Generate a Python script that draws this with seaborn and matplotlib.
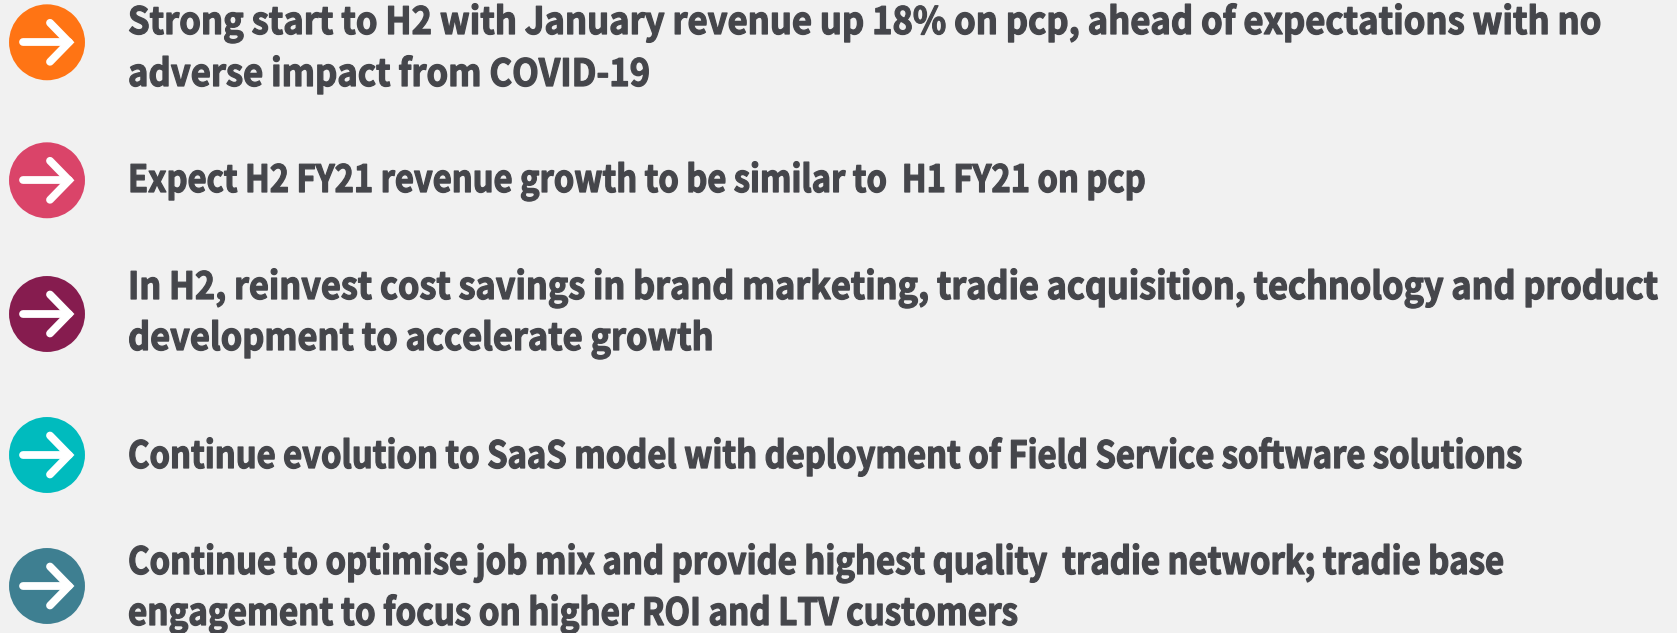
import matplotlib
matplotlib.use("Agg")
import matplotlib.patheffects as pe
import matplotlib.pyplot as plt
from matplotlib.transforms import Affine2D
import pandas as pd
import seaborn as sns

BACKGROUND = "#f1f1f1"
TEXT_COLOR = "#45464b"
BASE_SIZE = 27

badge_colors = ["#ff7414", "#da4469", "#861c4f", "#00bbbe", "#3e7f91"]
badge_rows = [42.3, 180.3, 314, 455, 586]
messages = [
    "Strong start to H2 with January revenue up 18% on pcp, ahead of expectations with no",
    "adverse impact from COVID-19",
    "Expect H2 FY21 revenue growth to be similar to  H1 FY21 on pcp",
    "In H2, reinvest cost savings in brand marketing, tradie acquisition, technology and product",
    "development to accelerate growth",
    "Continue evolution to SaaS model with deployment of Field Service software solutions",
    "Continue to optimise job mix and provide highest quality  tradie network; tradie base",
    "engagement to focus on higher ROI and LTV customers",
]
baselines = [34, 86, 192, 299, 350, 468, 574, 625]
right_edges = [1602, 650, 1146, 1658, 714, 1522, 1504, 1018]


class TallText(pe.AbstractPathEffect):
    """Stretch glyphs upward from the baseline, the source has tight tracking."""

    def __init__(self, yscale, weight=0.9):
        super().__init__()
        self.yscale = yscale
        self.weight = weight

    def draw_path(self, renderer, gc, tpath, affine, rgbFace=None):
        gc0 = renderer.new_gc()
        gc0.copy_properties(gc)
        gc0.set_linewidth(self.weight)
        gc0.set_foreground(rgbFace)
        renderer.draw_path(gc0, tpath, Affine2D().scale(1, self.yscale) + affine, rgbFace)
        gc0.restore()


sns.set_theme(style="white")
plt.rcParams["font.family"] = ["Noto Sans CJK SC", "DejaVu Sans"]

fig = plt.figure(figsize=(16.77, 6.33), dpi=100, facecolor=BACKGROUND)
ax = fig.add_axes([0, 0, 1, 1], facecolor=BACKGROUND)
ax.set_xlim(0, 1677)
ax.set_ylim(633, 0)
ax.axis("off")

badges = pd.DataFrame({"x": 47, "y": badge_rows, "row": range(len(badge_rows))})
sns.scatterplot(data=badges, x="x", y="y", hue="row", palette=badge_colors, s=2990,
                linewidth=0, legend=False, ax=ax, clip_on=False)

# white arrow on each badge
for y in badge_rows:
    ax.plot([23.5, 69], [y, y], color="white", lw=5.6, solid_capstyle="round", zorder=4)
    ax.plot([50, 69, 50], [y - 19.5, y, y + 19.5], color="white", lw=5.6,
            solid_capstyle="round", solid_joinstyle="miter", zorder=4)

renderer = fig.canvas.get_renderer()
for line, base, right in zip(messages, baselines, right_edges):
    t = ax.text(128, base, line, fontsize=BASE_SIZE, fontweight="bold", color=TEXT_COLOR,
                va="baseline", ha="left")
    # fit the line to its width in the reference
    size = BASE_SIZE * (right - 128) / t.get_window_extent(renderer).width
    t.set_fontsize(size)
    t.set_path_effects([TallText(BASE_SIZE / size)])

fig.savefig("out.png", dpi=100, facecolor=BACKGROUND)
plt.close(fig)
